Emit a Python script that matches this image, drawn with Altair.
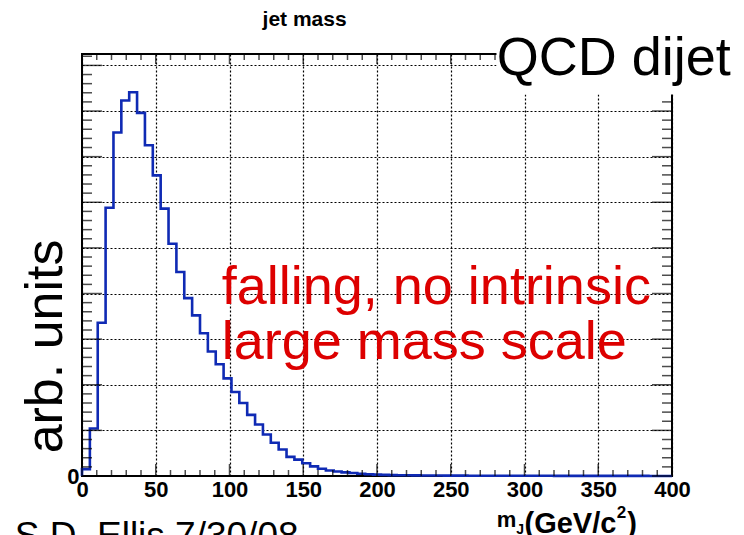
import altair as alt

FONT = "Liberation Sans"

# histogram contents (arb. units), 75 bins over 0-400 GeV/c^2
counts = [
    0.15, 1.04, 3.36, 5.88, 7.53, 8.23, 8.41, 7.96, 7.25, 6.59,
    5.86, 5.09, 4.47, 3.90, 3.52, 3.13, 2.73, 2.45, 2.14, 1.84,
    1.60, 1.34, 1.13, 0.91, 0.73, 0.58, 0.42, 0.36, 0.28, 0.21,
    0.16, 0.12, 0.10, 0.08, 0.065, 0.05, 0.04, 0.03, 0.025, 0.02,
    0.018, 0.015, 0.013, 0.012, 0.011, 0.010, 0.009, 0.008, 0.008, 0.007,
    0.007, 0.006, 0.006, 0.005, 0.005, 0.005, 0.004, 0.004, 0.004, 0.004,
    0.003, 0.003, 0.003, 0.003, 0.003, 0.002, 0.002, 0.002, 0.002, 0.002,
    0.002, 0.002, 0.001, 0.001, 0.001,
]
x_min, x_max = 0, 400
y_min, y_max = 0, 9.25
n_bins = len(counts)
bin_w = (x_max - x_min) / n_bins

x_major = [0, 50, 100, 150, 200, 250, 300, 350, 400]
x_minor = [v for v in range(0, 401, 10) if v % 50]
y_major = [0, 1, 2, 3, 4, 5, 6, 7, 8, 9]
y_minor = [round(i * 0.2, 2) for i in range(47) if i % 5]

hist_rows = [{"i": 0, "m": x_min, "c": 0.0}]
for k, c in enumerate(counts):
    hist_rows.append({"i": k + 1, "m": x_min + k * bin_w, "c": c})
hist_rows.append({"i": n_bins + 1, "m": x_max, "c": counts[-1]})

xs = alt.Scale(domain=[x_min, x_max], nice=False, zero=False)
ys = alt.Scale(domain=[y_min, y_max], nice=False, zero=False)

xaxis = alt.Axis(values=x_major, grid=True, gridColor="black", gridDash=[2, 2],
                 gridWidth=1.2, gridOpacity=1, domain=False, ticks=False,
                 labelFont=FONT, labelFontWeight="bold", labelFontSize=22,
                 labelColor="black", labelPadding=3, labelFlush=False,
                 labelOverlap=False, title=None, format="d")
yaxis = alt.Axis(values=y_major, grid=True, gridColor="black", gridDash=[2, 2],
                 gridWidth=1.2, gridOpacity=1, domain=False, ticks=False,
                 labelFont=FONT, labelFontWeight="bold", labelFontSize=22,
                 labelColor="black", labelPadding=3, labelOverlap=False,
                 labelExpr="datum.value == 0 ? '0' : ''", title=None)

hist = alt.Chart(alt.Data(values=hist_rows)).mark_line(
    interpolate="step-after", color="#0f2ab4", strokeWidth=2.6
).encode(
    x=alt.X("m:Q", scale=xs, axis=xaxis),
    y=alt.Y("c:Q", scale=ys, axis=yaxis),
    order=alt.Order("i:Q"),
)


def vticks(vals, at_y, size, sign):
    return alt.Chart(alt.Data(values=[{"v": v} for v in vals])).mark_tick(
        orient="vertical", size=size, thickness=1.5, color="black",
        yOffset=sign * size / 2,
    ).encode(x=alt.X("v:Q", scale=xs, axis=xaxis),
             y=alt.YDatum(at_y, scale=ys, axis=yaxis))


def hticks(vals, at_x, size, sign):
    return alt.Chart(alt.Data(values=[{"v": v} for v in vals])).mark_tick(
        orient="horizontal", size=size, thickness=1.5, color="black",
        xOffset=sign * size / 2,
    ).encode(y=alt.Y("v:Q", scale=ys, axis=yaxis),
             x=alt.XDatum(at_x, scale=xs, axis=xaxis))


ticks = [
    vticks(x_minor, y_min, 6, -1), vticks(x_major, y_min, 12, -1),
    vticks(x_minor, y_max, 6, 1), vticks(x_major, y_max, 10, 1),
    hticks(y_minor, x_min, 10, 1), hticks(y_major, x_min, 20, 1),
    hticks(y_minor, x_max, 10, -1), hticks(y_major, x_max, 20, -1),
]

one = alt.Data(values=[{}])

box = alt.Chart(one).mark_rect(color="white").encode(
    x=alt.XDatum(281, scale=xs, axis=xaxis), x2=alt.X2Datum(450),
    y=alt.YDatum(8.36, scale=ys, axis=yaxis), y2=alt.Y2Datum(9.8),
)


def label(text, x, y, size, color="black", weight="normal", align="left", angle=0):
    return alt.Chart(one).mark_text(
        text=text, font=FONT, fontSize=size, color=color, fontWeight=weight,
        align=align, baseline="alphabetic", angle=angle,
    ).encode(x=alt.XDatum(x, scale=xs, axis=xaxis),
             y=alt.YDatum(y, scale=ys, axis=yaxis))


texts = [
    label("QCD dijet", 281.2, 8.80, 54),
    label("falling, no intrinsic", 94.7, 3.78, 54, color="#dd0000"),
    label("large mass scale", 94.7, 2.555, 54, color="#dd0000"),
    label("arb. units", -13.6, 2.84, 52, align="center", angle=270),
    label("jet mass", 150.9, 9.86, 21, weight="bold", align="center"),
    label("m", 281.2, -1.12, 22, weight="bold"),
    label("J", 294.4, -1.27, 14, weight="bold"),
    label("(GeV/c", 300.0, -1.25, 29, weight="bold"),
    label("2", 362.6, -0.92, 17, weight="bold"),
    label(")", 369.6, -1.25, 29, weight="bold"),
    label("S.D. Ellis  7/30/08", -45.6, -1.585, 37),
]

chart = alt.layer(hist, *ticks, box, *texts).properties(
    width=590, height=422,
    autosize=alt.AutoSizeParams(type="none"),
    padding={"left": 74, "top": 46, "right": 64, "bottom": 59},
).configure_view(stroke="black", strokeWidth=2)

chart.save("out.html", embed_options={"renderer": "svg", "actions": False})
